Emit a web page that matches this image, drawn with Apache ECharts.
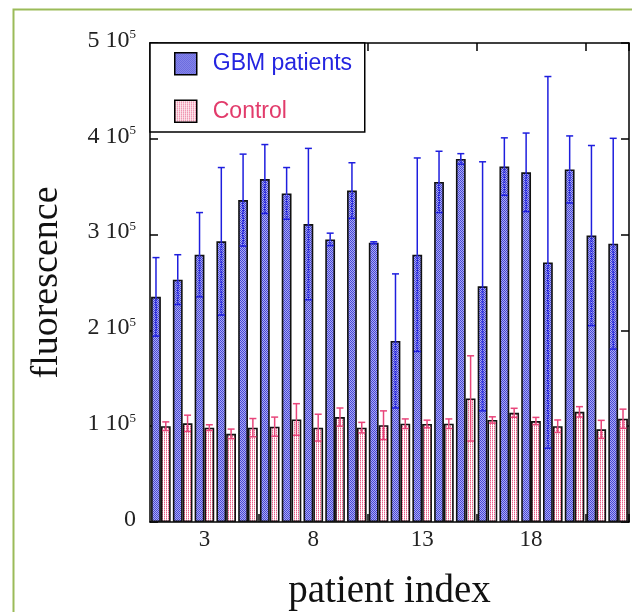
<!DOCTYPE html>
<html>
<head>
<meta charset="utf-8">
<script src="https://cdn.jsdelivr.net/npm/echarts@6/dist/echarts.min.js"></script>
<style>
html,body{margin:0;padding:0;background:#fff;}
#c{width:632px;height:612px;}
</style>
</head>
<body>
<div id="c"></div>
<script>
// ---- data ----
const categories = ['1','2','3','4','5','6','7','8','9','10','11','12','13','14','15','16','17','18','19','20','21','22'];
const gbmValues = [235000, 253000, 279000, 293000, 336000, 358000, 343000, 311000, 295000, 346000, 291500, 189000, 279000, 355000, 379000, 246000, 371000, 365000, 271000, 368000, 299000, 290500];
const gbmErrors = [41000, 26000, 44000, 77000, 48000, 36000, 27000, 79000, 6500, 29000, 1000, 70000, 101000, 32000, 5500, 130000, 30000, 41000, 194000, 35000, 94000, 110000];
const controlValues = [100000, 103000, 98500, 92000, 98500, 99500, 107000, 98500, 109500, 98500, 101000, 102600, 102300, 102600, 129000, 106500, 114000, 105400, 100000, 115000, 96700, 107800];
const controlErrors = [4500, 8500, 3000, 5000, 9500, 10000, 16500, 14000, 9500, 5500, 15000, 5000, 4000, 5000, 44500, 3300, 4700, 3800, 6500, 5400, 9400, 10000];
const yTicks = [0, 100000, 200000, 300000, 400000, 500000];

// ---- patterns ----
function pattern(cells) {
  const cv = document.createElement('canvas');
  cv.width = 2; cv.height = 2;
  const ctx = cv.getContext('2d');
  cells.forEach((c, k) => { ctx.fillStyle = c; ctx.fillRect(k % 2, Math.floor(k / 2), 1, 1); });
  return { image: cv, repeat: 'repeat' };
}
const bluePat = pattern(['#4646d6', '#acacf2', '#acacf2', '#4646d6']);
const pinkPat = pattern(['#e8608a', '#ffffff', '#f7b9cb', '#ffffff']);

const blueErr = '#1e1ede';
const pinkErr = '#e8457a';

function errRender(offsetFrac, color, dashInside) {
  return function (params, api) {
    const i = api.value(0), v = api.value(1), e = api.value(2);
    const cw = api.size([1, 0])[0];
    const x = api.coord([i, 0])[0] + offsetFrac * cw;
    const yv = api.coord([i, v])[1];
    const yt = api.coord([i, v + e])[1];
    const yb = api.coord([i, v - e])[1];
    const cap = 3.5;
    const st = { stroke: color, lineWidth: 1.5 };
    const stIn = dashInside
      ? { stroke: color, lineWidth: 2, lineDash: [1.5, 1] }
      : { stroke: color, lineWidth: 1.5 };
    return {
      type: 'group',
      children: [
        { type: 'line', shape: { x1: x, y1: yv, x2: x, y2: yt }, style: st },
        { type: 'line', shape: { x1: x - cap, y1: yt, x2: x + cap, y2: yt }, style: st },
        { type: 'line', shape: { x1: x, y1: yv, x2: x, y2: yb }, style: stIn },
        { type: 'line', shape: { x1: x - cap, y1: yb, x2: x + cap, y2: yb }, style: st }
      ]
    };
  };
}

const chart = echarts.init(document.getElementById('c'), null, { renderer: 'canvas' });
const serif = '"Liberation Serif", "Times New Roman", serif';
const sans = '"Liberation Sans", Arial, Helvetica, sans-serif';

const tickInt = (i) => i > 0 && i < categories.length && i % 5 === 0;

chart.setOption({
  backgroundColor: '#ffffff',
  animation: false,
  graphic: [{
    type: 'rect', left: 11, top: 7, shape: { width: 700, height: 700 },
    style: { fill: 'none', stroke: '#9bbb59', lineWidth: 2 }, silent: true, z: 100
  }],
  grid: { left: 150, right: 3, top: 43, bottom: 90, containLabel: false, outerBoundsMode: 'none' },
  legend: {
    orient: 'vertical', left: 150, top: 43,
    backgroundColor: '#fff',
    borderColor: '#000', borderWidth: 1.5, borderRadius: 0,
    padding: [9, 9, 9, 24],
    itemWidth: 22, itemHeight: 22, itemGap: 24,
    icon: 'rect',
    itemStyle: { borderColor: '#000', borderWidth: 1.5 },
    textStyle: { fontFamily: sans, fontSize: 23, lineHeight: 22, width: 143, padding: [0, 0, 0, 11] },
    data: [
      { name: 'GBM patients', textStyle: { color: '#2424e0' } },
      { name: 'Control', textStyle: { color: '#e23b6b' } }
    ],
    z: 10
  },
  xAxis: [{
    type: 'category', data: categories, position: 'bottom',
    boundaryGap: true,
    axisLine: { show: true, onZero: false, lineStyle: { color: '#000', width: 1.5 } },
    axisTick: { show: true, inside: true, length: 8, interval: tickInt, lineStyle: { color: '#000', width: 1.5 } },
    axisLabel: { interval: (i) => i % 5 === 2, fontFamily: serif, fontSize: 23, color: '#222', margin: 6 },
    name: 'patient index', nameLocation: 'middle', nameGap: 50,
    nameTextStyle: { fontFamily: serif, fontSize: 39, color: '#111' }
  }, {
    type: 'category', data: categories, position: 'top',
    boundaryGap: true,
    axisLine: { show: true, onZero: false, lineStyle: { color: '#000', width: 1.5 } },
    axisTick: { show: true, inside: true, length: 8, interval: tickInt, lineStyle: { color: '#000', width: 1.5 } },
    axisLabel: { show: false }
  }],
  yAxis: [{
    type: 'value', min: 0, max: 500000, interval: 100000, position: 'left',
    splitLine: { show: false },
    axisLine: { show: true, lineStyle: { color: '#000', width: 1.5 } },
    axisTick: { show: true, inside: true, length: 8, lineStyle: { color: '#000', width: 1.5 } },
    axisLabel: {
      margin: 14, color: '#222', fontFamily: serif, fontSize: 24,
      padding: [0, 0, 5, 0],
      formatter: (v) => v === 0 ? '0' : (v / 100000) + ' 10{s|5}',
      rich: { s: { fontFamily: serif, fontSize: 13, lineHeight: 5, verticalAlign: 'top', color: '#222' } }
    },
    name: 'fluorescence', nameLocation: 'middle', nameGap: 84, nameRotate: 90,
    nameTextStyle: { fontFamily: serif, fontSize: 38, color: '#111' }
  }, {
    type: 'value', min: 0, max: 500000, interval: 100000, position: 'right',
    splitLine: { show: false },
    axisLine: { show: true, lineStyle: { color: '#000', width: 1.5 } },
    axisTick: { show: true, inside: true, length: 8, lineStyle: { color: '#000', width: 1.5 } },
    axisLabel: { show: false }
  }],
  series: [{
    name: 'GBM patients', type: 'bar', data: gbmValues,
    barGap: '0%', barCategoryGap: '10%',
    itemStyle: { color: bluePat, borderColor: '#111', borderWidth: 1.6 },
    z: 2
  }, {
    name: 'Control', type: 'bar', data: controlValues,
    itemStyle: { color: pinkPat, borderColor: '#111', borderWidth: 1.6 },
    z: 2
  }, {
    name: 'GBM error', type: 'custom',
    renderItem: errRender(-0.225, blueErr, true),
    data: gbmValues.map((v, i) => [i, v, gbmErrors[i]]),
    encode: { x: 0, y: 1 }, z: 5, silent: true
  }, {
    name: 'Control error', type: 'custom',
    renderItem: errRender(0.225, pinkErr, false),
    data: controlValues.map((v, i) => [i, v, controlErrors[i]]),
    encode: { x: 0, y: 1 }, z: 5, silent: true
  }]
});
</script>
</body>
</html>
